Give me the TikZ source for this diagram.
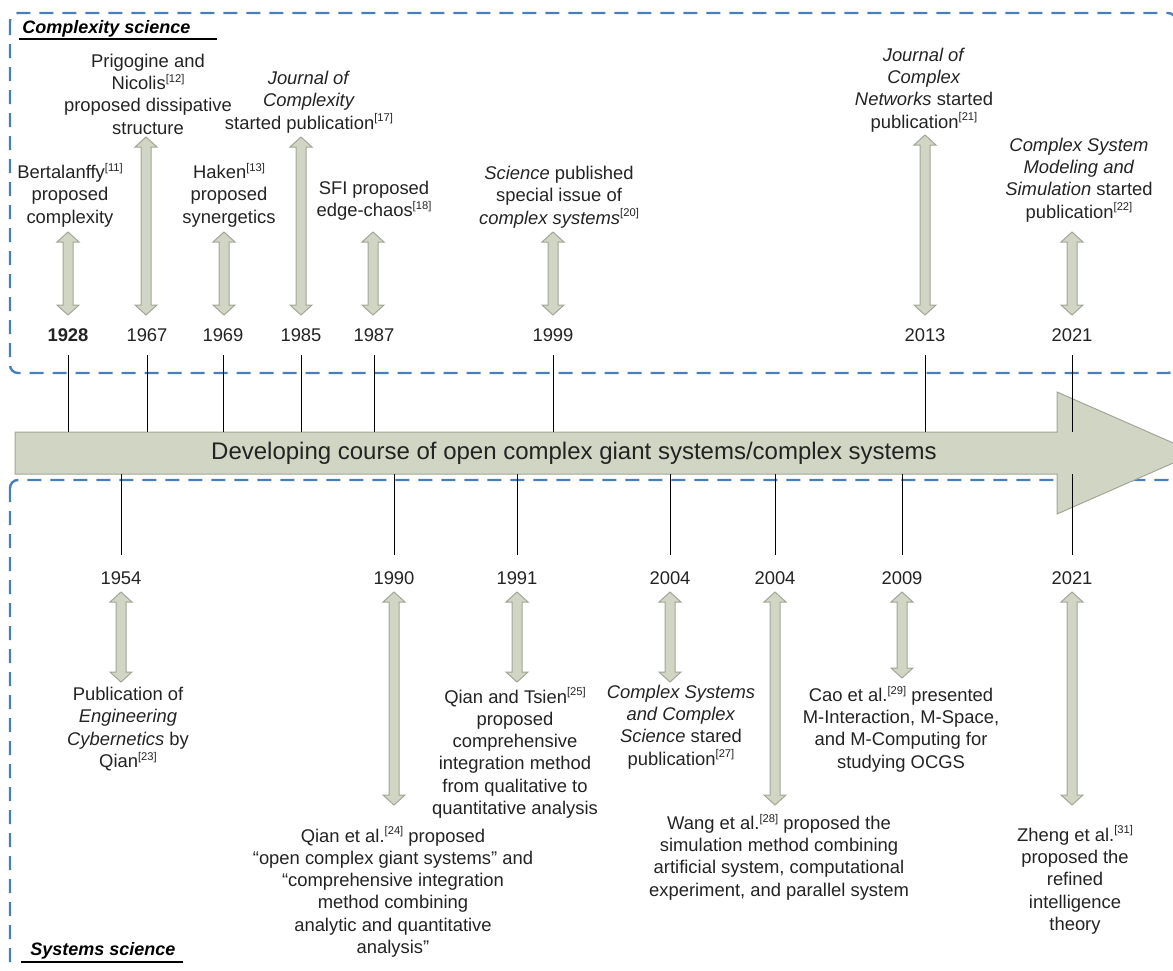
\documentclass[tikz,border=0pt]{standalone}
\usepackage{fontspec}
\setmainfont{Liberation Sans}
\usetikzlibrary{positioning}

\definecolor{boxblue}{HTML}{4A7EBB}
\definecolor{arrowfill}{HTML}{D1D5C3}
\definecolor{arrowedge}{HTML}{A3A697}
\definecolor{txt}{HTML}{232323}

\newcommand{\cit}[1]{\raisebox{0.75ex}{\fontsize{5.6}{6}\selectfont[#1]}}
% double block arrow: x, top y, bottom y
\newcommand{\blockarrow}[3]{%
  \draw[evarrow] (#1,#2) -- ++(11,10) -- ++(-6,0) -- ({#1+5},{#3-10}) -- ++(6,0)
    -- (#1,#3) -- ++(-11,-10) -- ++(6,0) -- ({#1-5},{#2+10}) -- ++(-6,0) -- cycle;}

\tikzset{
  evtext/.style={align=center, inner sep=0pt, text=txt, font=\fontsize{9.2}{11.15}\selectfont},
  yearlbl/.style={inner sep=0pt, text=txt, font=\fontsize{9.2}{11.15}\selectfont},
  tick/.style={draw=black, line width=0.5pt},
  evarrow/.style={fill=arrowfill, draw=arrowedge, line width=0.5pt},
  region/.style={draw=boxblue, line width=1.2pt, dash pattern=on 7pt off 4.5pt, rounded corners=4pt},
  heading/.style={inner sep=0pt, text=black, font=\fontsize{9}{11}\selectfont\bfseries\itshape},
}

\begin{document}
\begin{tikzpicture}[x=0.5pt,y=-0.5pt]
\clip (0,0) rectangle (1173,970);

% the two fields
\draw[region] (10,13) rectangle (1176,373);
\draw[region] (10,480) rectangle (1176,995);
\node[heading, anchor=base west] (cxhead) at (22,33) {Complexity science};
\draw[line width=1pt] ([shift={(-3,6)}]cxhead.base west) -- ([shift={(195,6)}]cxhead.base west);
\node[heading, anchor=base west] (syshead) at (30,955) {Systems science};
\draw[line width=1pt] ([shift={(-9,7)}]syshead.base west) -- ([shift={(153,7)}]syshead.base west);

% time axis
\draw[fill=arrowfill, draw=arrowedge, line width=0.5pt] (15,432) -- (1057,432) -- (1057,392)
  -- (1196,453) -- (1057,514) -- (1057,474) -- (15,474) -- cycle;
\coordinate (bartop) at (15,432);
\coordinate (barbot) at (15,474);
\node[text=txt, font=\fontsize{12}{14}\selectfont] (course) at (574,453)
  {Developing course of open complex giant systems/complex systems};

% complexity science
\node[yearlbl, font=\fontsize{9.2}{11.15}\selectfont\bfseries] (y1928) at (68,335) {1928};
\node[yearlbl] (y1967) at (147,335) {1967};
\node[yearlbl] (y1969) at (223,335) {1969};
\node[yearlbl] (y1985) at (301,335) {1985};
\node[yearlbl] (y1987) at (374,335) {1987};
\node[yearlbl] (y1999) at (553,335) {1999};
\node[yearlbl] (y2013) at (925,335) {2013};
\node[yearlbl] (y2021a) at (1072,335) {2021};

\node[evtext] (bert) at (70,195) {Bertalanffy\cit{11}\\proposed\\complexity};
\node[evtext] (prig) at (148,94) {Prigogine and\\Nicolis\cit{12}\\proposed dissipative\\structure};
\node[evtext] (haken) at (229,195) {Haken\cit{13}\\proposed\\synergetics};
\node[evtext] (joc) at (309,102) {\textit{Journal of}\\\textit{Complexity}\\started publication\cit{17}};
\node[evtext] (sfi) at (374,201) {SFI proposed\\edge-chaos\cit{18}};
\node[evtext] (sci) at (559,197) {\textit{Science} published\\special issue of\\\textit{complex systems}\cit{20}};
\node[evtext] (jcn) at (924,90) {\textit{Journal of}\\\textit{Complex}\\\textit{Networks} started\\publication\cit{21}};
\node[evtext] (csms) at (1079,180) {\textit{Complex System}\\\textit{Modeling and}\\\textit{Simulation} started\\publication\cit{22}};

\foreach \ax/\ay/\by in {68/232/315, 146/137/315, 224/232/315, 301/137/315,
    373/232/315, 553/232/315, 925/135/315, 1072/232/315}
  \blockarrow{\ax}{\ay}{\by};

\foreach \n in {y1928,y1967,y1969,y1985,y1987,y1999,y2013,y2021a}
  \draw[tick, shorten <=6.5pt] (\n) -- (\n |- bartop);

% systems science
\node[yearlbl] (y1954) at (121,578) {1954};
\node[yearlbl] (y1990) at (394,578) {1990};
\node[yearlbl] (y1991) at (517,578) {1991};
\node[yearlbl] (y2004a) at (670,578) {2004};
\node[yearlbl] (y2004b) at (775,578) {2004};
\node[yearlbl] (y2009) at (902,578) {2009};
\node[yearlbl] (y2021b) at (1072,578) {2021};

\node[evtext] (engcyb) at (128,729) {Publication of\\\textit{Engineering}\\\textit{Cybernetics} by\\Qian\cit{23}};
\node[evtext] (ocgs) at (393,892) {Qian et al.\cit{24} proposed\\“open complex giant systems” and\\“comprehensive integration\\method combining\\analytic and quantitative\\analysis”};
\node[evtext] (tsien) at (515,753) {Qian and Tsien\cit{25}\\proposed\\comprehensive\\integration method\\from qualitative to\\quantitative analysis};
\node[evtext] (cscs) at (681,727) {\textit{Complex Systems}\\\textit{and Complex}\\\textit{Science} stared\\publication\cit{27}};
\node[evtext] (wang) at (779,857) {Wang et al.\cit{28} proposed the\\simulation method combining\\artificial system, computational\\experiment, and parallel system};
\node[evtext] (cao) at (901,729) {Cao et al.\cit{29} presented\\M-Interaction, M-Space,\\and M-Computing for\\studying OCGS};
\node[evtext] (zheng) at (1075,880) {Zheng et al.\cit{31}\\proposed the\\refined\\intelligence\\theory};

\foreach \ax/\ay/\by in {121/592/682, 394/592/805, 517/592/682, 670/592/682,
    775/592/805, 902/592/678, 1072/592/805}
  \blockarrow{\ax}{\ay}{\by};

\foreach \n in {y1954,y1990,y1991,y2004a,y2004b,y2009,y2021b}
  \draw[tick, shorten >=8pt] (\n |- barbot) -- (\n);
\end{tikzpicture}
\end{document}
